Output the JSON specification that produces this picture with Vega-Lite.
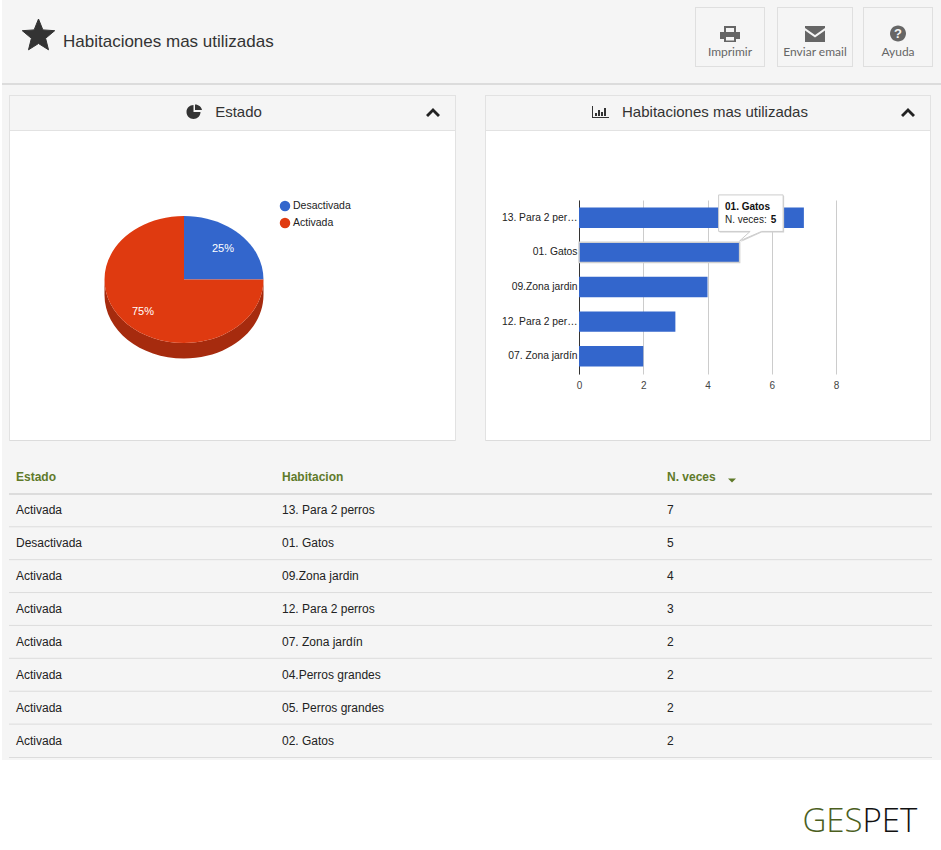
{
  "$schema": "https://vega.github.io/schema/vega-lite/v6.json",
  "padding": 0,
  "background": "white",
  "config": {
    "font": "Liberation Sans",
    "view": {"stroke": null},
    "concat": {"spacing": 0}
  },
  "data": {"values": [{"relleno": 1}]},
  "datasets": {
    "estados": [
      {"estado": "Desactivada", "porcentaje": 0.25},
      {"estado": "Activada", "porcentaje": 0.75}
    ],
    "barras": [
      {"etiqueta": "13. Para 2 per…", "veces": 7},
      {"etiqueta": "01. Gatos", "veces": 5},
      {"etiqueta": "09.Zona jardin", "veces": 4},
      {"etiqueta": "12. Para 2 per…", "veces": 3},
      {"etiqueta": "07. Zona jardín", "veces": 2}
    ],
    "tabla": [
      {"fila": 0, "estado": "Estado", "habitacion": "Habitacion", "veces": "N. veces"},
      {"fila": 1, "estado": "Activada", "habitacion": "13. Para 2 perros", "veces": "7"},
      {"fila": 2, "estado": "Desactivada", "habitacion": "01. Gatos", "veces": "5"},
      {"fila": 3, "estado": "Activada", "habitacion": "09.Zona jardin", "veces": "4"},
      {"fila": 4, "estado": "Activada", "habitacion": "12. Para 2 perros", "veces": "3"},
      {"fila": 5, "estado": "Activada", "habitacion": "07. Zona jardín", "veces": "2"},
      {"fila": 6, "estado": "Activada", "habitacion": "04.Perros grandes", "veces": "2"},
      {"fila": 7, "estado": "Activada", "habitacion": "05. Perros grandes", "veces": "2"},
      {"fila": 8, "estado": "Activada", "habitacion": "02. Gatos", "veces": "2"}
    ]
  },
  "hconcat": [
    {"width": 2, "height": 850, "mark": {"type": "rect", "opacity": 0}},
    {
      "spacing": 0,
      "vconcat": [
        {"width": 939, "height": 7, "mark": {"type": "rect", "color": "#f5f5f5"}},
        {
          "spacing": 0,
          "bounds": "flush",
          "hconcat": [
            {
              "width": 693,
              "height": 60,
              "view": {"fill": "#f5f5f5"},
              "layer": [
                {"mark": {"type": "point", "filled": true, "opacity": 1, "size": 4, "color": "#333333", "stroke": "#333333", "strokeWidth": 1, "strokeJoin": "round", "shape": "M-310 -18 L-305.6 -7.1 L-293.8 -6.3 L-302.9 1.3 L-300 12.8 L-310 6.5 L-320 12.8 L-317.1 1.3 L-326.2 -6.3 L-314.4 -7.1 Z"}},
                {"mark": {"type": "text", "text": "Habitaciones mas utilizadas", "align": "left", "dx": -285.5, "dy": 5, "fontSize": 17, "color": "#333333"}}
              ]
            },
            {
              "width": 70,
              "height": 60,
              "view": {"fill": "#f5f5f5"},
              "layer": [
                {"mark": {"type": "point", "filled": true, "opacity": 1, "size": 4, "color": "#dfdfdf", "shape": "M-35 -30 L35 -30 L35 30 L-35 30 Z M-34 -29 L-34 29 L34 29 L34 -29 Z"}},
                {"mark": {"type": "point", "filled": true, "opacity": 1, "size": 4, "color": "#666666", "shape": "M-6 -11 L6 -11 L6 -5 L10 -5 L10 2 L6 2 L6 5 L-6 5 L-6 2 L-10 2 L-10 -5 L-6 -5 Z"}},
                {"mark": {"type": "point", "filled": true, "opacity": 1, "size": 4, "color": "#f5f5f5", "shape": "M-4 -9 L4 -9 L4 -5 L-4 -5 Z M-4 0 L4 0 L4 3.5 L-4 3.5 Z"}},
                {"mark": {"type": "text", "text": "Imprimir", "font": "Lato", "fontSize": 12, "dy": 15, "color": "#666666"}}
              ]
            },
            {"width": 12, "height": 60, "mark": {"type": "rect", "color": "#f5f5f5"}},
            {
              "width": 76,
              "height": 60,
              "view": {"fill": "#f5f5f5"},
              "layer": [
                {"mark": {"type": "point", "filled": true, "opacity": 1, "size": 4, "color": "#dfdfdf", "shape": "M-38 -30 L38 -30 L38 30 L-38 30 Z M-37 -29 L-37 29 L37 29 L37 -29 Z"}},
                {"mark": {"type": "point", "filled": true, "opacity": 1, "size": 4, "color": "#666666", "shape": "M-10 -11 L10 -11 L10 -9 L0 -2 L-10 -9 Z M-10 -6.5 L0 0.5 L10 -6.5 L10 5 L-10 5 Z"}},
                {"mark": {"type": "text", "text": "Enviar email", "font": "Lato", "fontSize": 12, "dy": 15, "color": "#666666"}}
              ]
            },
            {"width": 10, "height": 60, "mark": {"type": "rect", "color": "#f5f5f5"}},
            {
              "width": 70,
              "height": 60,
              "view": {"fill": "#f5f5f5"},
              "layer": [
                {"mark": {"type": "point", "filled": true, "opacity": 1, "size": 4, "color": "#dfdfdf", "shape": "M-35 -30 L35 -30 L35 30 L-35 30 Z M-34 -29 L-34 29 L34 29 L34 -29 Z"}},
                {"mark": {"type": "point", "filled": true, "opacity": 1, "size": 4, "color": "#666666", "shape": "M-8 -3.5 A8 8 0 1 1 8 -3.5 A8 8 0 1 1 -8 -3.5 Z"}},
                {"mark": {"type": "text", "text": "?", "font": "Liberation Sans", "fontWeight": "bold", "fontSize": 13, "dy": -3.5, "color": "#f5f5f5"}},
                {"mark": {"type": "text", "text": "Ayuda", "font": "Lato", "fontSize": 12, "dy": 15, "color": "#666666"}}
              ]
            },
            {"width": 8, "height": 60, "mark": {"type": "rect", "color": "#f5f5f5"}}
          ]
        },
        {"width": 939, "height": 16, "mark": {"type": "rect", "color": "#f5f5f5"}},
        {"width": 939, "height": 2, "mark": {"type": "rect", "color": "#dcdcdc"}},
        {"width": 939, "height": 10, "mark": {"type": "rect", "color": "#f5f5f5"}},
        {
          "spacing": 0,
          "hconcat": [
            {"width": 7, "height": 346, "mark": {"type": "rect", "color": "#f5f5f5"}},
            {"width": 1, "height": 346, "mark": {"type": "rect", "color": "#e2e2e2"}},
            {
              "spacing": 0,
              "vconcat": [
                {"width": 445, "height": 1, "mark": {"type": "rect", "color": "#e2e2e2"}},
                {
                  "width": 445,
                  "height": 34,
                  "view": {"fill": "#f5f5f5"},
                  "layer": [
                    {"mark": {"type": "point", "filled": true, "opacity": 1, "size": 4, "color": "#333333", "shape": "M-39 -1 L-39 -8 A7 7 0 1 0 -32 -1 Z M-37.5 -8.5 A7 7 0 0 1 -30.5 -3 L-37.5 -3 Z"}},
                    {"mark": {"type": "text", "text": "Estado", "fontSize": 15, "dx": 6, "dy": -1, "color": "#333333"}},
                    {"mark": {"type": "point", "filled": true, "opacity": 1, "size": 4, "color": "#222222", "shape": "M193.5 2 L200.5 -5 L207.5 2 L205.5 4 L200.5 -1 L195.5 4 Z"}}
                  ]
                },
                {"width": 445, "height": 1, "mark": {"type": "rect", "color": "#e2e2e2"}},
                {
                  "width": 445,
                  "height": 309,
                  "data": {"name": "estados"},
                  "encoding": {
                    "color": {
                      "field": "estado",
                      "type": "nominal",
                      "scale": {"domain": ["Desactivada", "Activada"], "range": ["#3366cc", "#df3a10"]},
                      "legend": {"title": null, "orient": "none", "legendX": 279, "legendY": 200, "symbolType": "circle", "symbolSize": 110, "symbolOpacity": 1, "labelFontSize": 10.5, "labelColor": "#222222", "rowPadding": 5, "labelOffset": 2}
                    }
                  },
                  "layer": [
                    {
                      "transform": [{"filter": "datum.estado == 'Activada'"}],
                      "mark": {"type": "point", "filled": true, "opacity": 1, "size": 4, "color": "#a62b0e", "shape": "M-128 -6 L-128 9.5 A79.5 63.5 0 0 0 31 9.5 L31 -6 A79.5 63.5 0 0 1 -128 -6 Z"},
                      "encoding": {"color": {"value": "#a62b0e"}}
                    },
                    {
                      "transform": [{"filter": "datum.estado == 'Desactivada'"}],
                      "mark": {"type": "point", "filled": true, "opacity": 1, "size": 4, "shape": "M-48.5 -6 L-48.5 -69.5 A79.5 63.5 0 0 1 31 -6 Z"}
                    },
                    {
                      "transform": [{"filter": "datum.estado == 'Activada'"}],
                      "mark": {"type": "point", "filled": true, "opacity": 1, "size": 4, "shape": "M-48.5 -6 L31 -6 A79.5 63.5 0 1 1 -48.5 -69.5 Z"}
                    },
                    {
                      "transform": [{"filter": "datum.estado == 'Desactivada'"}],
                      "mark": {"type": "text", "dx": -9.5, "dy": -36.5, "fontSize": 11},
                      "encoding": {"text": {"field": "porcentaje", "type": "quantitative", "format": ".0%"}, "color": {"value": "white"}}
                    },
                    {
                      "transform": [{"filter": "datum.estado == 'Activada'"}],
                      "mark": {"type": "text", "dx": -89.5, "dy": 26.5, "fontSize": 11},
                      "encoding": {"text": {"field": "porcentaje", "type": "quantitative", "format": ".0%"}, "color": {"value": "white"}}
                    }
                  ]
                },
                {"width": 445, "height": 1, "mark": {"type": "rect", "color": "#dcdcdc"}}
              ]
            },
            {"width": 1, "height": 346, "mark": {"type": "rect", "color": "#e2e2e2"}},
            {"width": 29, "height": 346, "mark": {"type": "rect", "color": "#f5f5f5"}},
            {"width": 1, "height": 346, "mark": {"type": "rect", "color": "#e2e2e2"}},
            {
              "spacing": 0,
              "vconcat": [
                {"width": 444, "height": 1, "mark": {"type": "rect", "color": "#e2e2e2"}},
                {
                  "width": 444,
                  "height": 34,
                  "view": {"fill": "#f5f5f5"},
                  "layer": [
                    {"mark": {"type": "point", "filled": true, "opacity": 1, "size": 4, "color": "#333333", "shape": "M-116 -7 L-115 -7 L-115 4 L-99 4 L-99 5 L-116 5 Z M-113 0 L-111 0 L-111 3 L-113 3 Z M-110 -3 L-108 -3 L-108 3 L-110 3 Z M-107 -1 L-105 -1 L-105 3 L-107 3 Z M-104 -5 L-102 -5 L-102 3 L-104 3 Z"}},
                    {"mark": {"type": "text", "text": "Habitaciones mas utilizadas", "fontSize": 15, "dx": 7, "dy": -1, "color": "#333333"}},
                    {"mark": {"type": "point", "filled": true, "opacity": 1, "size": 4, "color": "#222222", "shape": "M193 2 L200 -5 L207 2 L205 4 L200 -1 L195 4 Z"}}
                  ]
                },
                {"width": 444, "height": 1, "mark": {"type": "rect", "color": "#e2e2e2"}},
                {
                  "spacing": 0,
                  "vconcat": [
                    {"width": 444, "height": 61, "mark": {"type": "rect", "opacity": 0}},
                    {
                      "spacing": 0,
                      "hconcat": [
                        {"width": 15, "height": 20, "mark": {"type": "rect", "opacity": 0}},
                        {
                          "width": 257,
                          "height": 174,
                          "data": {"name": "barras"},
                          "encoding": {
                            "y": {
                              "field": "etiqueta",
                              "type": "nominal",
                              "sort": null,
                              "title": null,
                              "scale": {"paddingInner": 0.41, "paddingOuter": 0.22},
                              "axis": {"domainColor": "#333333", "ticks": false, "labelFontSize": 10.3, "labelColor": "#222222", "labelPadding": 2, "labelLimit": 120, "grid": false}
                            },
                            "x": {
                              "field": "veces",
                              "type": "quantitative",
                              "title": null,
                              "scale": {"domain": [0, 8], "nice": false},
                              "axis": {"values": [0, 2, 4, 6, 8], "domain": false, "ticks": false, "gridColor": "#cccccc", "labelFontSize": 10, "labelColor": "#444444", "labelPadding": 6, "labelFlush": false}
                            }
                          },
                          "layer": [
                            {
                              "mark": {"type": "bar", "color": "#3366cc"},
                              "encoding": {
                                "stroke": {"condition": {"test": "datum.etiqueta == '01. Gatos'", "value": "#d0d0d0"}, "value": null},
                                "strokeWidth": {"value": 1.5}
                              }
                            },
                            {
                              "transform": [{"filter": "datum.etiqueta == '01. Gatos'"}],
                              "layer": [
                                {"mark": {"type": "point", "filled": true, "opacity": 1, "size": 4, "color": "#d0d0d0", "shape": "M-20 -56.5 L44.5 -56.5 L44.5 -20 L22 -20 L1 -10.5 L11.5 -20 L-20 -20 Z"}},
                                {"mark": {"type": "point", "filled": true, "opacity": 1, "size": 4, "color": "white", "stroke": "#cccccc", "strokeWidth": 1, "shape": "M-21 -57.5 L43.5 -57.5 L43.5 -21 L22 -21 L0 -11.5 L10.5 -21 L-21 -21 Z"}},
                                {
                                  "mark": {"type": "text", "align": "left", "dx": -14.6, "dy": -45.5, "fontSize": 10, "fontWeight": "bold", "color": "#111111"},
                                  "encoding": {"text": {"field": "etiqueta"}}
                                },
                                {"mark": {"type": "text", "text": "N. veces:", "align": "left", "dx": -14.6, "dy": -32, "fontSize": 10, "color": "#222222"}},
                                {
                                  "mark": {"type": "text", "align": "left", "dx": 31, "dy": -32, "fontSize": 10, "fontWeight": "bold", "color": "#111111"},
                                  "encoding": {"text": {"field": "veces"}}
                                }
                              ]
                            }
                          ]
                        }
                      ]
                    },
                    {"width": 444, "height": 50, "mark": {"type": "rect", "opacity": 0}}
                  ]
                },
                {"width": 444, "height": 1, "mark": {"type": "rect", "color": "#dcdcdc"}}
              ]
            },
            {"width": 1, "height": 346, "mark": {"type": "rect", "color": "#e2e2e2"}},
            {"width": 10, "height": 346, "mark": {"type": "rect", "color": "#f5f5f5"}}
          ]
        },
        {"width": 939, "height": 20, "mark": {"type": "rect", "color": "#f5f5f5"}},
        {
          "spacing": 0,
          "bounds": "flush",
          "hconcat": [
            {"width": 7, "height": 296, "mark": {"type": "rect", "color": "#f5f5f5"}},
            {
              "width": 266,
              "height": 296,
              "view": {"fill": "#f5f5f5"},
              "data": {"name": "tabla"},
              "encoding": {"y": {"field": "fila", "type": "ordinal", "axis": null, "scale": {"paddingInner": 0, "paddingOuter": 0}}},
              "layer": [
                {
                  "transform": [{"filter": "datum.fila < 8"}],
                  "mark": {"type": "rule", "color": "#dcdcdc"},
                  "encoding": {
                    "y": {"field": "fila", "type": "ordinal", "bandPosition": 1, "axis": null},
                    "strokeWidth": {"condition": {"test": "datum.fila == 0", "value": 2}, "value": 1}
                  }
                },
                {
                  "transform": [{"filter": "datum.fila > 0"}],
                  "mark": {"type": "text", "align": "left", "dx": -126, "fontSize": 12, "color": "#222222"},
                  "encoding": {"text": {"field": "estado"}}
                },
                {
                  "transform": [{"filter": "datum.fila == 0"}],
                  "mark": {"type": "text", "align": "left", "dx": -126, "fontSize": 12, "fontWeight": "bold", "color": "#5f7a2a"},
                  "encoding": {"text": {"field": "estado"}}
                }
              ]
            },
            {
              "width": 385,
              "height": 296,
              "view": {"fill": "#f5f5f5"},
              "data": {"name": "tabla"},
              "encoding": {"y": {"field": "fila", "type": "ordinal", "axis": null, "scale": {"paddingInner": 0, "paddingOuter": 0}}},
              "layer": [
                {
                  "transform": [{"filter": "datum.fila < 8"}],
                  "mark": {"type": "rule", "color": "#dcdcdc"},
                  "encoding": {
                    "y": {"field": "fila", "type": "ordinal", "bandPosition": 1, "axis": null},
                    "strokeWidth": {"condition": {"test": "datum.fila == 0", "value": 2}, "value": 1}
                  }
                },
                {
                  "transform": [{"filter": "datum.fila > 0"}],
                  "mark": {"type": "text", "align": "left", "dx": -185.5, "fontSize": 12, "color": "#222222"},
                  "encoding": {"text": {"field": "habitacion"}}
                },
                {
                  "transform": [{"filter": "datum.fila == 0"}],
                  "mark": {"type": "text", "align": "left", "dx": -185.5, "fontSize": 12, "fontWeight": "bold", "color": "#5f7a2a"},
                  "encoding": {"text": {"field": "habitacion"}}
                }
              ]
            },
            {
              "width": 272,
              "height": 296,
              "view": {"fill": "#f5f5f5"},
              "data": {"name": "tabla"},
              "encoding": {"y": {"field": "fila", "type": "ordinal", "axis": null, "scale": {"paddingInner": 0, "paddingOuter": 0}}},
              "layer": [
                {
                  "transform": [{"filter": "datum.fila < 8"}],
                  "mark": {"type": "rule", "color": "#dcdcdc"},
                  "encoding": {
                    "y": {"field": "fila", "type": "ordinal", "bandPosition": 1, "axis": null},
                    "strokeWidth": {"condition": {"test": "datum.fila == 0", "value": 2}, "value": 1}
                  }
                },
                {
                  "transform": [{"filter": "datum.fila > 0"}],
                  "mark": {"type": "text", "align": "left", "dx": -129, "fontSize": 12, "color": "#222222"},
                  "encoding": {"text": {"field": "veces"}}
                },
                {
                  "transform": [{"filter": "datum.fila == 0"}],
                  "mark": {"type": "text", "align": "left", "dx": -129, "fontSize": 12, "fontWeight": "bold", "color": "#5f7a2a"},
                  "encoding": {"text": {"field": "veces"}}
                },
                {
                  "transform": [{"filter": "datum.fila == 0"}],
                  "mark": {"type": "point", "filled": true, "opacity": 1, "size": 4, "color": "#5f7a2a", "shape": "M-68 1 L-60 1 L-64 5 Z"}
                }
              ]
            },
            {"width": 9, "height": 296, "mark": {"type": "rect", "color": "#f5f5f5"}}
          ]
        },
        {
          "spacing": 0,
          "bounds": "flush",
          "hconcat": [
            {"width": 7, "height": 1, "mark": {"type": "rect", "color": "#f5f5f5"}},
            {"width": 923, "height": 1, "mark": {"type": "rect", "color": "#dcdcdc"}},
            {"width": 9, "height": 1, "mark": {"type": "rect", "color": "#f5f5f5"}}
          ]
        },
        {"width": 939, "height": 2, "mark": {"type": "rect", "color": "#f5f5f5"}},
        {
          "width": 939,
          "height": 90,
          "layer": [
            {"mark": {"type": "text", "text": "GES", "font": "Open Sans", "fontWeight": 300, "fontSize": 33, "align": "right", "baseline": "alphabetic", "dx": 391, "dy": 27, "color": "#4c5f1e"}},
            {"mark": {"type": "text", "text": "PET", "font": "Open Sans", "fontWeight": 300, "fontSize": 33, "align": "left", "baseline": "alphabetic", "dx": 391, "dy": 27, "color": "#111111"}}
          ]
        }
      ]
    }
  ]
}
